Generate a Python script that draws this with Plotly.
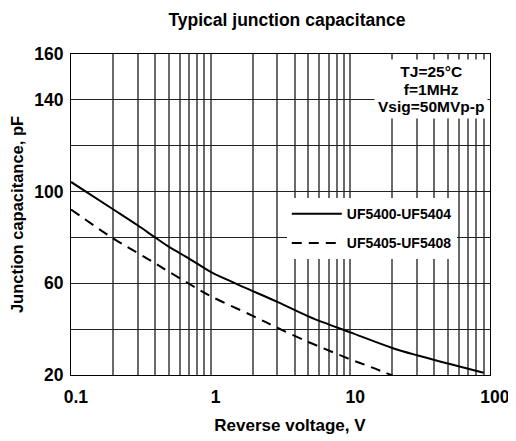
import plotly.graph_objects as go

# Data
v_solid = [0.1, 0.2, 0.3, 0.4, 0.5, 0.7, 1, 1.5, 2, 3, 5, 7, 10, 20, 30, 50, 90]
c_solid = [104.2, 92.3, 85.3, 80.0, 76.0, 70.8, 65.0, 60.0, 56.6, 51.9, 45.6, 42.1, 38.6, 31.8, 28.6, 25.0, 21.0]

v_dash = [0.1, 0.2, 0.3, 0.4, 0.5, 0.7, 1, 2, 3, 5, 7, 10, 14, 20]
c_dash = [92.2, 79.6, 73.2, 68.7, 65.1, 59.8, 54.4, 45.8, 40.6, 34.4, 30.7, 26.8, 23.5, 19.8]

name_solid = "UF5400-UF5404"
name_dash = "UF5405-UF5408"

x_major = [0.1, 1, 10, 100]
x_grid = [m * 10 ** e for e in (-1, 0, 1) for m in range(1, 10)] + [100]
x_text = [("&nbsp;&nbsp;<b>%g</b>" % v) if v in x_major else "" for v in x_grid]

y_grid = [20, 40, 60, 80, 100, 120, 140, 160]
y_labels = [20, 60, 100, 140, 160]
y_text = [("<b>%d</b>" % v) if v in y_labels else "" for v in y_grid]

note_lines = ["TJ=25°C", "f=1MHz", "Vsig=50MVp-p"]

FONT = "Arial, 'Liberation Sans', sans-serif"

fig = go.Figure()
fig.add_trace(go.Scatter(x=v_solid, y=c_solid, mode="lines", name=name_solid, legendgroup="a",
                         line=dict(color="black", width=2, shape="spline", smoothing=1.0)))
fig.add_trace(go.Scatter(x=v_dash, y=c_dash, mode="lines", name=name_dash, legendgroup="b",
                         line=dict(color="black", width=2, dash="10px,7px", shape="spline", smoothing=1.0)))

# the page body adds an 8px offset, so the figure is sized to fit the window
fig.update_layout(
    width=508, height=433,
    margin=dict(l=63, r=26, t=46, b=66),
    paper_bgcolor="white", plot_bgcolor="white",
    font=dict(family=FONT, color="black", size=14),
    title=dict(text="<b>Typical junction capacitance</b>", x=0.549, xanchor="center",
               y=0.972, yanchor="middle", font=dict(size=17.5, family=FONT, color="black")),
    xaxis=dict(type="log", range=[-1, 2], tickvals=x_grid, ticktext=x_text,
               showgrid=True, gridcolor="#6a6a6a", gridwidth=2,
               showline=True, linecolor="black", linewidth=1, mirror=True,
               ticks="", ticklabelstandoff=6, automargin=False,
               tickfont=dict(size=17.5, family=FONT, color="black"),
               title=dict(text="&nbsp;&nbsp;&nbsp;&nbsp;<b>Reverse voltage, V</b>", standoff=13,
                          font=dict(size=17, family=FONT, color="black")),
               zeroline=False),
    yaxis=dict(range=[20, 160], tickvals=y_grid, ticktext=y_text,
               showgrid=True, gridcolor="#222222", gridwidth=1,
               showline=True, linecolor="black", linewidth=1, mirror=True,
               ticks="", ticklabelstandoff=3, automargin=False,
               tickfont=dict(size=17.5, family=FONT, color="black"),
               title=dict(text="<b>Junction capacitance, pF</b>", standoff=9,
                          font=dict(size=16.5, family=FONT, color="black")),
               zeroline=False),
    legend=dict(x=0.515, y=0.551, xanchor="left", yanchor="top",
                bgcolor="white", borderwidth=0,
                font=dict(size=14, family=FONT, color="black", weight="bold"),
                itemwidth=50, tracegroupgap=8),
    showlegend=True,
)

fig.add_annotation(x=0.859, y=0.891, xref="paper", yref="paper",
                   xanchor="center", yanchor="middle",
                   text="<br>".join("<span style='font-size:15.5px'><b>%s</b></span>" % s
                                    for s in note_lines),
                   showarrow=False, align="center", bgcolor="white",
                   borderpad=3, font=dict(size=13.5, family=FONT, color="black"))

fig.write_html("out.html")
